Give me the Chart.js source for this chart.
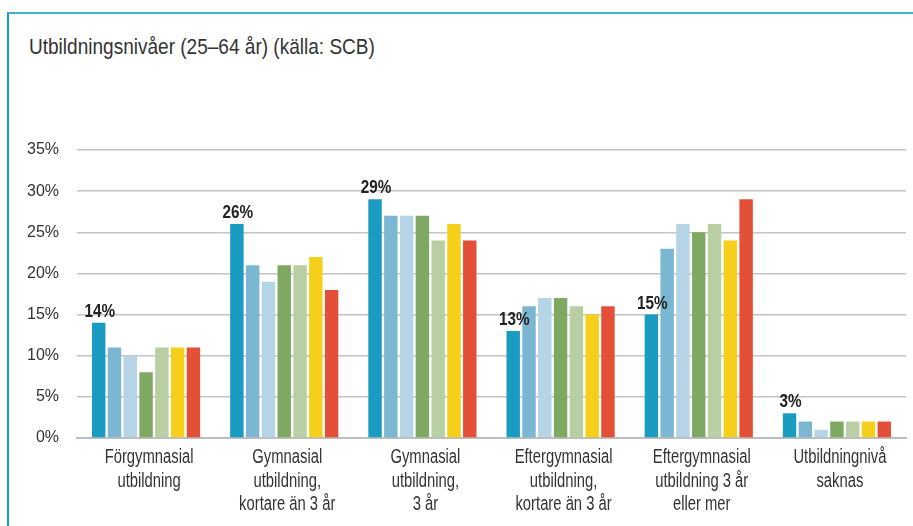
<!DOCTYPE html>
<html>
<head>
<meta charset="utf-8">
<script src="https://cdn.jsdelivr.net/npm/chart.js@4"></script>
<style>
    body { margin: 0; background: #fff; }
    .frame {
        position: absolute; left: 7px; top: 12px; width: 906px; height: 514px;
        border-top: 2px solid #4badd0; border-left: 2px solid #1a9bc2;
    }
    .title {
        position: absolute; left: 29px; top: 34px; white-space: nowrap;
        font-family: 'Liberation Sans', Arial, sans-serif;
        font-size: 22px; line-height: 25px; color: #333; transform-origin: 0 0;
    }
    .wrap { position: absolute; left: 0; top: 0; width: 913px; height: 526px; }
</style>
</head>
<body>
<div class="frame"></div>
<div class="title" id="title">Utbildningsnivåer (25–64 år) (källa: SCB)</div>
<div class="wrap"><canvas id="chart" width="913" height="526"></canvas></div>
<script>
const FONT = "'Liberation Sans', Arial, sans-serif"

const categories = [
    ['Förgymnasial', 'utbildning'],
    ['Gymnasial', 'utbildning,', 'kortare än 3 år'],
    ['Gymnasial', 'utbildning,', '3 år'],
    ['Eftergymnasial', 'utbildning,', 'kortare än 3 år'],
    ['Eftergymnasial', 'utbildning 3 år', 'eller mer'],
    ['Utbildningnivå', 'saknas']
]
const serie1 = [14, 26, 29, 13, 15, 3]
const serie2 = [11, 21, 27, 16, 23, 2]
const serie3 = [10, 19, 27, 17, 26, 1]
const serie4 = [8, 21, 27, 17, 25, 2]
const serie5 = [11, 21, 24, 16, 26, 2]
const serie6 = [11, 22, 26, 15, 24, 2]
const serie7 = [11, 18, 24, 16, 29, 2]
const colors = ['#1a9bc2', '#7bb7d3', '#b5d5e7', '#7fa862', '#b8cfa3', '#f5cf1a', '#e44f38']

const series = [serie1, serie2, serie3, serie4, serie5, serie6, serie7]

// smal rubrik (ingen condensed-font finns installerad)
const titleEl = document.getElementById('title')
titleEl.style.transform = 'scaleX(' + (346 / titleEl.offsetWidth) + ')'

// etikett ovanför första stapeln i varje grupp
const firstBarLabels = {
    id: 'firstBarLabels',
    afterDatasetsDraw(chart) {
        const ctx = chart.ctx
        const meta = chart.getDatasetMeta(0)
        ctx.save()
        ctx.font = 'bold 18px ' + FONT
        ctx.fillStyle = '#222'
        ctx.textAlign = 'center'
        ctx.textBaseline = 'alphabetic'
        meta.data.forEach(function (bar, i) {
            ctx.save()
            ctx.translate(bar.x + 1, bar.y - 6)
            ctx.scale(0.85, 1)
            ctx.fillText(serie1[i] + '%', 0, 0)
            ctx.restore()
        })
        ctx.restore()
    }
}

// kategorietiketter, hoptryckta på bredden
const narrowLabels = {
    id: 'narrowLabels',
    afterDraw(chart) {
        const ctx = chart.ctx
        const x = chart.scales.x
        ctx.save()
        ctx.font = '20px ' + FONT
        ctx.fillStyle = '#333'
        ctx.textAlign = 'center'
        ctx.textBaseline = 'alphabetic'
        categories.forEach(function (lines, i) {
            const cx = x.getPixelForTick(i) + 3
            lines.forEach(function (line, j) {
                ctx.save()
                ctx.translate(cx, x.top + 25 + j * 23.5)
                ctx.scale(0.74, 1)
                ctx.fillText(line, 0, 0)
                ctx.restore()
            })
        })
        ctx.restore()
    }
}

new Chart(document.getElementById('chart'), {
    type: 'bar',
    data: {
        labels: categories,
        datasets: series.map(function (s, i) {
            return {
                label: 'Serie ' + (i + 1),
                data: s,
                backgroundColor: colors[i],
                borderWidth: 0,
                categoryPercentage: 0.8,
                barPercentage: 0.85
            }
        })
    },
    options: {
        responsive: false,
        animation: false,
        layout: { padding: { top: 150, right: 7, left: 0, bottom: 0 } },
        plugins: {
            legend: { display: false },
            tooltip: { enabled: false }
        },
        scales: {
            x: {
                grid: { display: false },
                border: { color: '#bdbdbd', width: 2 },
                ticks: { display: false },
                afterFit: function (scale) { scale.height = 88 }
            },
            y: {
                min: 0,
                max: 35,
                ticks: {
                    stepSize: 5,
                    color: '#333',
                    font: { family: FONT, size: 16 },
                    padding: 18,
                    callback: function (v) { return v + '%' }
                },
                grid: { color: '#c4c4c4', lineWidth: 1.5, drawTicks: false },
                border: { display: false },
                afterFit: function (scale) { scale.width = 77 }
            }
        }
    },
    plugins: [firstBarLabels, narrowLabels]
});
</script>
</body>
</html>
